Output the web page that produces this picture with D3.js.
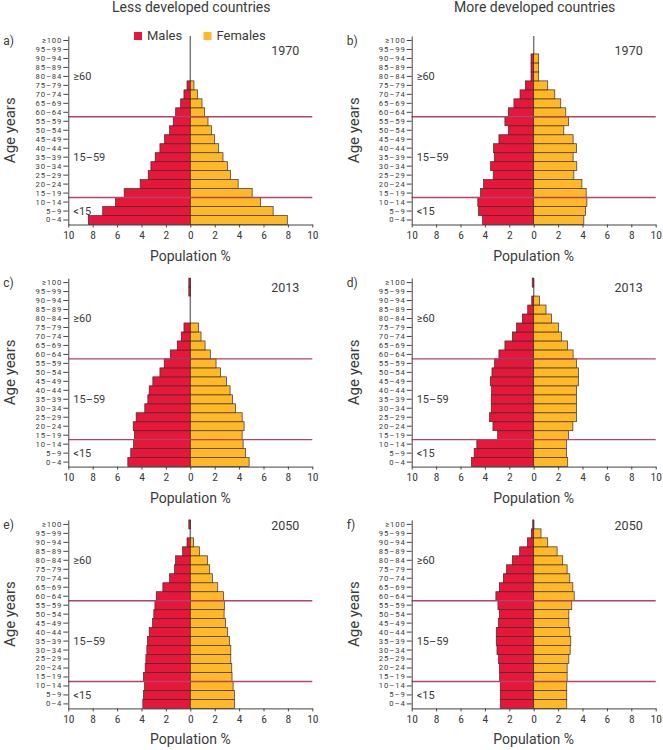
<!DOCTYPE html>
<html><head><meta charset="utf-8">
<script src="https://cdn.jsdelivr.net/npm/d3@7"></script>
<style>
body{margin:0;background:#fff;}
svg text{font-family:Roboto,"Noto Sans",sans-serif;fill:#3a3a3a;}
svg .cond{font-family:"Roboto Condensed",Roboto,sans-serif;}
</style></head>
<body><svg id="c" width="663" height="750"></svg>
<script>
const ages = ["0–4","5–9","10–14","15–19","20–24","25–29","30–34","35–39","40–44","45–49","50–54","55–59","60–64","65–69","70–74","75–79","80–84","85–89","90–94","95–99","≥100"];
const xTicks = [-10,-8,-6,-4,-2,0,2,4,6,8,10];
const columnTitles = ["Less developed countries","More developed countries"];
const panelLetters = ["a)","b)","c)","d)","e)","f)"];
const years = ["1970","1970","2013","2013","2050","2050"];

const malesLess1970   = [8.36,7.18,6.14,5.42,4.11,3.45,3.23,2.88,2.49,2.11,1.70,1.40,1.20,0.79,0.52,0.27,0,0,0,0,0];
const femalesLess1970 = [7.95,6.79,5.75,5.07,3.92,3.29,3.04,2.68,2.33,2.00,1.73,1.45,1.18,0.96,0.58,0.30,0,0,0,0,0];
const malesMore1970   = [4.19,4.52,4.58,4.36,4.11,3.32,3.53,3.23,3.29,2.85,2.08,2.36,2.08,1.62,1.12,0.68,0.22,0.22,0.22,0,0];
const femalesMore1970 = [4.11,4.25,4.36,4.30,3.95,3.29,3.53,3.23,3.51,3.23,2.47,2.85,2.63,2.22,1.73,1.15,0.41,0.41,0.41,0,0];
const malesLess2013   = [5.12,4.88,4.66,4.58,4.68,4.44,3.73,3.48,3.37,3.07,2.49,2.14,1.64,1.07,0.74,0.52,0,0,0,0.12,0.12];
const femalesLess2013 = [4.82,4.52,4.33,4.25,4.41,4.25,3.70,3.45,3.26,2.96,2.47,2.11,1.64,1.21,0.88,0.66,0,0,0,0,0];
const malesMore2013   = [5.10,4.88,4.66,2.96,3.34,3.62,3.48,3.48,3.45,3.56,3.42,3.21,2.85,2.36,1.75,1.40,0.93,0.49,0.16,0,0.12];
const femalesMore2013 = [2.79,2.68,2.68,2.85,3.21,3.51,3.51,3.51,3.51,3.67,3.67,3.51,3.23,2.77,2.27,2.03,1.45,1.01,0.47,0,0];
const malesLess2050   = [3.89,3.84,3.75,3.84,3.70,3.64,3.56,3.51,3.37,3.10,2.99,2.90,2.79,2.25,1.70,1.29,1.21,0.63,0.27,0,0.12];
const femalesLess2050 = [3.62,3.62,3.51,3.42,3.40,3.32,3.32,3.21,3.04,2.88,2.77,2.79,2.71,2.25,1.81,1.59,1.40,0.74,0.27,0,0];
const malesMore2050   = [2.74,2.74,2.74,2.79,2.82,2.88,3.01,3.07,3.07,2.90,2.82,2.93,3.10,2.82,2.49,2.22,1.75,1.15,0.52,0.19,0.08];
const femalesMore2050 = [2.71,2.71,2.71,2.74,2.74,2.88,2.99,3.04,2.96,2.88,2.88,3.12,3.32,3.21,2.96,2.74,2.38,1.92,1.15,0.60,0];

const maleSeries = [malesLess1970,malesMore1970,malesLess2013,malesMore2013,malesLess2050,malesMore2050];
const femaleSeries = [femalesLess1970,femalesMore1970,femalesLess2013,femalesMore2013,femalesLess2050,femalesMore2050];

const RED="#e5173b", YEL="#fdb927", STROKE="#3f2a2a", LINE="#b3436a", TXT="#3a3a3a";
const svg = d3.select("#c");
const colX = [68.3, 411.7];
const rowBottom = [224.5, 466.6, 708.4];
const plotW = 244, plotH = 188.5;
const yearBase = [55, 292, 530];

columnTitles.forEach((t,i)=>{
  svg.append("text").attr("x", colX[i]+123).attr("y", 12).attr("text-anchor","middle")
    .style("font-size","14px").text(t);
});

for (let p=0;p<6;p++){
  const col = p%2, row = Math.floor(p/2);
  const x0 = colX[col], bottom = rowBottom[row], top = bottom - plotH;
  const x = d3.scaleLinear().domain([-10,10]).range([x0, x0+plotW]);
  const y = d3.scaleBand().domain(ages).range([bottom, top]);
  const g = svg.append("g");
  const m = maleSeries[p], f = femaleSeries[p];
  const data = ages.map((a,i)=>({age:a, m:m[i], f:f[i]}));

  g.append("line").attr("x1",x(0)).attr("x2",x(0)).attr("y1",top).attr("y2",bottom)
    .attr("stroke","#7a7a7a").attr("stroke-width",1.5);

  g.selectAll("rect.m").data(data.filter(d=>d.m>0)).join("rect").attr("class","m")
    .attr("x",d=>x(-d.m)).attr("width",d=>x(0)-x(-d.m))
    .attr("y",d=>y(d.age)).attr("height",y.bandwidth())
    .attr("fill",RED).attr("stroke",STROKE).attr("stroke-width",0.7);
  g.selectAll("rect.f").data(data.filter(d=>d.f>0)).join("rect").attr("class","f")
    .attr("x",x(0)).attr("width",d=>x(d.f)-x(0))
    .attr("y",d=>y(d.age)).attr("height",y.bandwidth())
    .attr("fill",YEL).attr("stroke",STROKE).attr("stroke-width",0.7);

  [ "60–64", "15–19" ].forEach(a=>{
    const yy = y(a) + y.bandwidth();
    g.append("line").attr("x1",x0).attr("x2",x0+plotW).attr("y1",yy).attr("y2",yy)
      .attr("stroke",LINE).attr("stroke-width",1.4);
  });

  const ya = g.append("g").attr("transform",`translate(${x0},0)`)
    .call(d3.axisLeft(y).tickSize(5).tickSizeOuter(0).tickPadding(1));
  ya.selectAll("text").style("font-size","7.7px").style("letter-spacing","0.9px").attr("fill",TXT);
  ya.selectAll("path,line").attr("stroke","#444");

  const xa = g.append("g").attr("transform",`translate(0,${bottom})`)
    .call(d3.axisBottom(x).tickValues(xTicks).tickFormat(d=>Math.abs(d)).tickSize(3).tickSizeOuter(0).tickPadding(3));
  xa.selectAll("text").attr("class","cond").style("font-size","11.5px").attr("fill",TXT);
  xa.selectAll("path,line").attr("stroke","#444");

  g.append("text").attr("x",x(0)).attr("y",bottom+36).attr("text-anchor","middle")
    .style("font-size","14px").text("Population %");
  g.append("text").attr("transform",`translate(${x0-53},${(top+bottom)/2}) rotate(-90)`)
    .attr("text-anchor","middle").style("font-size","15px").text("Age years");
  g.append("text").attr("x",x0-65).attr("y",top+9).style("font-size","12px").text(panelLetters[p]);
  g.append("text").attr("x",x0+231).attr("y",yearBase[row]).attr("text-anchor","end")
    .style("font-size","12.5px").text(years[p]);

  [["≥60","80–84"],["15–59","35–39"],["<15","5–9"]].forEach(([t,a])=>{
    g.append("text").attr("x",x0+5).attr("y",y(a)+y.bandwidth()/2).attr("dy","0.35em")
      .style("font-size","11px").text(t);
  });

  if (p===0){
    const leg = [["Males",RED,134],["Females",YEL,203.5]];
    leg.forEach(([t,c,lx])=>{
      g.append("rect").attr("x",lx).attr("y",32).attr("width",8).attr("height",8).attr("fill",c);
      g.append("text").attr("x",lx+13).attr("y",40).style("font-size","13px").text(t);
    });
  }
}
</script></body></html>
